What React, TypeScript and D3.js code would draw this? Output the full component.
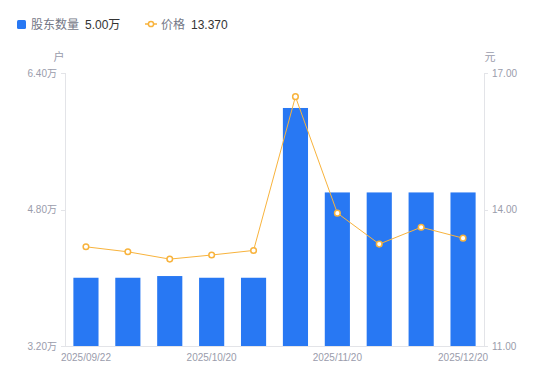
import React from "react";
import * as d3 from "d3";

const categories = ["2025/09/22", "2025/09/30", "2025/10/10", "2025/10/20", "2025/10/31", "2025/11/10", "2025/11/20", "2025/11/30", "2025/12/10", "2025/12/20"];
const holders = [4.0, 4.0, 4.02, 4.0, 4.0, 5.99, 5.0, 5.0, 5.0, 5.0];
const prices = [13.18, 13.07, 12.91, 13.0, 13.1, 16.48, 13.92, 13.24, 13.61, 13.37];
const leftTicks = [3.2, 4.8, 6.4];
const rightTicks = [11, 14, 17];
const shownLabels = ["2025/09/22", "2025/10/20", "2025/11/20", "2025/12/20"];

const W = 550, H = 381;
const M = { left: 65, right: 484, top: 73, bottom: 346 };
const FONT = "'Liberation Sans', 'Noto Sans CJK SC', sans-serif";
const BLUE = "#2878f3";
const ORANGE = "#f8b33c";
const AXIS = "#e3e4e8";
const TICKTXT = "#9a9cab";

export default function App() {
  const x = d3.scaleBand<string>().domain(categories).range([M.left, M.right]).paddingInner(0.4).paddingOuter(0.2);
  const xc = d3.scaleBand<string>().domain(categories).range([M.left, M.right]);
  const yL = d3.scaleLinear().domain([3.2, 6.4]).range([M.bottom, M.top]);
  const yR = d3.scaleLinear().domain([11, 17]).range([M.bottom, M.top]);
  const line = d3.line<number>().x((_, i) => xc(categories[i])! + xc.bandwidth() / 2).y((d) => yR(d));

  return (
    <svg width={W} height={H} style={{ position: "absolute", left: 0, top: 0, fontFamily: FONT }}>
      {/* legend */}
      <rect x={17} y={20} width={9} height={9} rx={1.5} fill={BLUE} />
      <text x={31} y={29} fontSize={12} fill="#747786">股东数量</text>
      <text x={85} y={29} fontSize={12} fill="#333">5.00万</text>
      <line x1={145} x2={157} y1={24} y2={24} stroke={ORANGE} strokeWidth={1.5} />
      <circle cx={151} cy={24} r={2.6} fill="#fff" stroke={ORANGE} strokeWidth={1.5} />
      <text x={161} y={29} fontSize={12} fill="#747786">价格</text>
      <text x={191} y={29} fontSize={12} fill="#333">13.370</text>

      {/* unit labels */}
      <text x={59} y={61} fontSize={11} fill={TICKTXT} textAnchor="middle">户</text>
      <text x={490} y={61} fontSize={11} fill={TICKTXT} textAnchor="middle">元</text>

      {/* axes */}
      <line x1={M.left + 0.5} x2={M.left + 0.5} y1={M.top} y2={M.bottom} stroke={AXIS} />
      <line x1={M.right + 0.5} x2={M.right + 0.5} y1={M.top} y2={M.bottom} stroke={AXIS} />
      <line x1={M.left} x2={M.right} y1={M.bottom + 0.5} y2={M.bottom + 0.5} stroke={AXIS} />
      {leftTicks.map((t) => (
        <g key={"l" + t}>
          <line x1={M.left - 4} x2={M.left} y1={Math.round(yL(t)) + 0.5} y2={Math.round(yL(t)) + 0.5} stroke={AXIS} />
          <text x={M.left - 8} y={yL(t)} dy="0.35em" fontSize={10} fill={TICKTXT} textAnchor="end">{t.toFixed(2) + "万"}</text>
        </g>
      ))}
      {rightTicks.map((t) => (
        <g key={"r" + t}>
          <line x1={M.right} x2={M.right + 4} y1={Math.round(yR(t)) + 0.5} y2={Math.round(yR(t)) + 0.5} stroke={AXIS} />
          <text x={M.right + 8} y={yR(t)} dy="0.35em" fontSize={10} fill={TICKTXT}>{t.toFixed(2)}</text>
        </g>
      ))}
      {shownLabels.map((c) => (
        <text key={c} x={xc(c)! + xc.bandwidth() / 2} y={361} fontSize={10} fill={TICKTXT} textAnchor="middle">{c}</text>
      ))}

      {/* bars */}
      {holders.map((v, i) => (
        <rect key={i} x={x(categories[i])} y={yL(v)} width={x.bandwidth()} height={M.bottom - yL(v)} fill={BLUE} />
      ))}

      {/* price line */}
      <path d={line(prices) || ""} fill="none" stroke={ORANGE} strokeWidth={1} />
      {prices.map((p, i) => (
        <circle key={i} cx={xc(categories[i])! + xc.bandwidth() / 2} cy={yR(p)} r={2.8} fill="#fff" stroke={ORANGE} strokeWidth={1.5} />
      ))}
    </svg>
  );
}
